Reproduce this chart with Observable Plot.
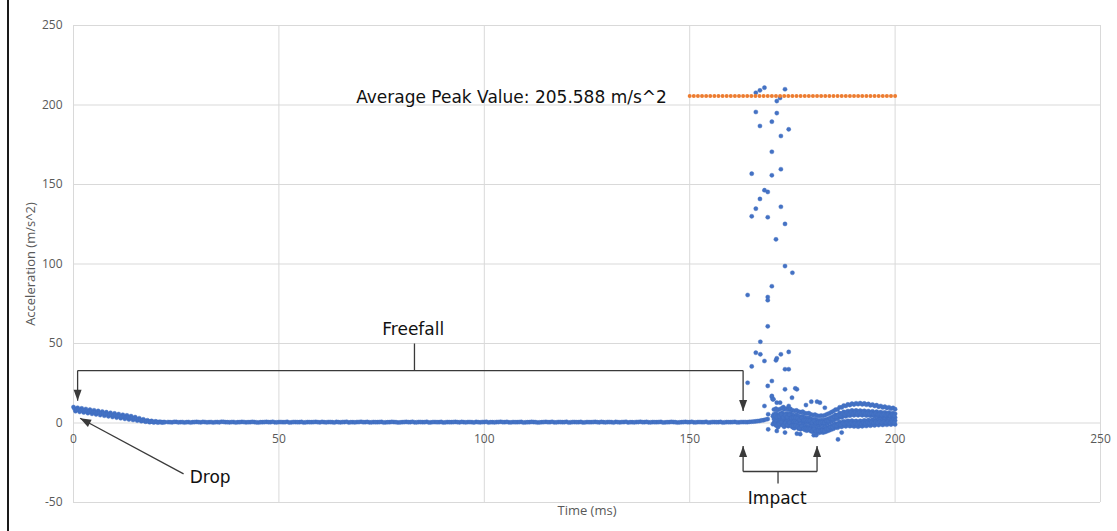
<!DOCTYPE html>
<html>
<head>
<meta charset="utf-8">
<script src="https://cdn.jsdelivr.net/npm/d3@7"></script>
<script src="https://cdn.jsdelivr.net/npm/@observablehq/plot@0.6"></script>
<style>
  html, body { margin: 0; padding: 0; background: #fff; }
  #wrap { position: relative; width: 1117px; height: 531px; overflow: hidden; }
  #edge { position: absolute; left: 7px; top: 0; width: 2px; height: 531px; background: #1a1a1a; }
</style>
</head>
<body>
<div id="wrap"><div id="edge"></div></div>
<script>
// ---------- data ----------
const xTicks = [0, 50, 100, 150, 200, 250];
const yTicks = [-50, 0, 50, 100, 150, 200, 250];
const yTickLabels = ["-50", "0", "50", "100", "150", "200", "250"];

// Drop phase, sampled every 0.5 ms from t = 0 (two interleaved readings)
const dropStart = 0, dropStep = 0.5;
const dropValues = [10.0,7.4,9.6,7.0,9.2,6.6,8.8,6.2,8.4,5.8,
  8.0,5.4,7.6,5.0,7.2,4.6,6.8,4.2,6.4,3.8,
  6.0,3.4,5.6,3.0,5.2,2.6,4.8,2.2,4.3,1.9,
  3.7,1.5,3.0,1.1,2.3,0.8,1.7,0.5,1.3,0.4,
  1.0,0.3,0.8,0.4,0.6];
const dropStartB = 0.25;
const dropValuesB = [8.9,8.4,8.4,7.9,8.0,7.6,7.6,7.2,7.2,6.8,
  6.8,6.4,6.4,6.0,6.0,5.6,5.6,5.2,5.2,4.8,
  4.8,4.4,4.4,4.0,4.0,3.6,3.6,3.2,3.2,2.7,
  2.6,2.1,2.0,1.6,1.5,1.1,1.1,0.8,0.8,0.6,
  0.7,0.5,0.6,0.4,0.5];

// Freefall, sampled every 1 ms from t = 23 and from t = 23.5
const freefallStart = 23, freefallStep = 1;
const freefallValues = [
  0.6,0.4,0.7,0.5,0.3,0.6,0.5,0.7,0.4,0.6,
  0.5,0.3,0.6,0.8,0.5,0.4,0.6,0.5,0.7,0.4,
  0.5,0.6,0.3,0.5,0.7,0.5,0.4,0.6,0.5,0.8,
  0.4,0.6,0.5,0.3,0.6,0.5,0.7,0.4,0.5,0.6,
  0.5,0.7,0.4,0.6,0.3,0.5,0.6,0.8,0.5,0.4,
  0.6,0.5,0.7,0.4,0.5,0.6,0.3,0.5,0.7,0.5,
  0.4,0.6,0.5,0.8,0.4,0.6,0.5,0.3,0.6,0.5,
  0.7,0.4,0.5,0.6,0.5,0.7,0.4,0.6,0.3,0.5,
  0.6,0.8,0.5,0.4,0.6,0.5,0.7,0.4,0.5,0.6,
  0.3,0.5,0.7,0.5,0.4,0.6,0.5,0.8,0.4,0.6,
  0.5,0.3,0.6,0.5,0.7,0.4,0.5,0.6,0.5,0.7,
  0.4,0.6,0.3,0.5,0.6,0.8,0.5,0.4,0.6,0.5,
  0.7,0.4,0.5,0.6,0.3,0.5,0.7,0.5,0.4,0.6,
  0.5,0.8,0.4,0.6,0.5,0.3,0.6,0.5,0.7,0.4,
  0.6,0.5,0.8,1.0,1.3,1.8,2.5];
const freefallStartB = 23.5;
const freefallValuesB = [
  0.5,0.7,0.4,0.6,0.5,0.3,0.6,0.5,0.7,0.4,
  0.6,0.5,0.4,0.7,0.5,0.6,0.3,0.5,0.6,0.5,
  0.7,0.4,0.5,0.6,0.5,0.8,0.4,0.6,0.5,0.3,
  0.6,0.5,0.7,0.4,0.5,0.6,0.5,0.7,0.4,0.6,
  0.3,0.5,0.6,0.8,0.5,0.4,0.6,0.5,0.7,0.4,
  0.5,0.6,0.3,0.5,0.7,0.5,0.4,0.6,0.5,0.8,
  0.4,0.6,0.5,0.3,0.6,0.5,0.7,0.4,0.5,0.6,
  0.5,0.7,0.4,0.6,0.3,0.5,0.6,0.8,0.5,0.4,
  0.6,0.5,0.7,0.4,0.5,0.6,0.3,0.5,0.7,0.5,
  0.4,0.6,0.5,0.8,0.4,0.6,0.5,0.3,0.6,0.5,
  0.7,0.4,0.5,0.6,0.5,0.7,0.4,0.6,0.3,0.5,
  0.6,0.8,0.5,0.4,0.6,0.5,0.7,0.4,0.5,0.6,
  0.3,0.5,0.7,0.5,0.4,0.6,0.5,0.8,0.4,0.6,
  0.5,0.3,0.6,0.5,0.7,0.4,0.5,0.6,0.4,0.6,
  0.6,0.7,0.9,1.2,1.6,2.2];

// Impact spike: individual readings (time ms, acceleration m/s^2)
const spikeTimes = [164.1,164.1,165.1,165.1,165.1,166.1,166.1,166.1,166.1,167.1,
  167.1,167.1,167.2,167.2,168.2,168.2,168.2,168.2,169.0,169.0,
  169.0,169.0,169.0,169.0,170.0,170.0,170.0,170.0,170.0,170.0,
  170.2,171.0,171.0,171.2,171.2,171.2,172.0,172.2,172.2,172.2,
  172.2,173.2,173.2,173.2,173.2,173.2,174.1,174.1,174.1,174.1,
  175.0,176.1,170.0,170.4,171.2,172.0,172.8,174.9,175.7,169.1,
  178.3,179.6,181.0,181.7,182.9,169.1,171.2,173.2,175.3,176.9,
  176.1,180.2,180.8,186.1,187.0];
const spikeValues = [80.5,25.3,156.8,130.0,35.6,207.7,195.6,134.8,44.2,209.2,
  186.8,140.9,51.1,43.2,210.9,146.4,39.0,10.7,145.3,129.4,
  79.2,77.2,60.8,23.3,189.5,170.6,155.8,86.0,26.4,16.4,
  14.9,115.5,39.4,202.5,194.9,40.7,204.4,180.5,159.6,136.0,
  43.2,209.9,125.2,98.7,33.8,21.2,184.7,44.7,33.8,10.7,
  94.5,21.2,17.0,14.9,12.8,12.8,10.0,15.9,21.8,5.5,
  11.3,13.4,13.4,12.8,9.6,-4.0,-5.0,-6.0,-3.0,-7.0,
  -6.7,-7.7,-7.7,-10.3,-6.0];

// Post-impact oscillation, interleaved traces sampled every 0.5 ms
const ringStart = 170, ringStep = 0.5;
const ringA = [null,
  8.5,9.0,8.2,8.8,9.3,8.6,9.1,8.4,8.9,8.0,
  7.6,7.9,7.2,6.8,7.1,6.3,5.9,6.2,5.4,5.0,
  5.3,4.6,4.4,4.7,4.5,5.0,5.6,6.1,6.8,7.5,
  8.4,8.5,9.9,9.8,11.0,10.7,11.7,11.3,12.2,11.6,
  12.4,11.8,12.5,11.7,12.3,11.5,12.0,11.1,11.6,10.7,
  11.2,10.2,10.7,9.8,10.3,9.4,9.9,9.0,9.5,8.7];
const ringB = [null,
  5.5,6.2,5.0,5.8,6.4,5.2,6.0,5.4,6.3,5.1,
  4.6,5.2,4.3,3.9,4.4,3.5,3.0,3.4,2.6,2.1,
  2.5,1.8,1.5,1.9,1.6,2.0,2.5,3.0,3.6,4.2,
  5.1,5.0,6.2,6.0,7.0,6.7,7.5,7.1,7.9,7.3,
  7.9,7.3,7.8,7.2,7.7,7.0,7.5,6.8,7.3,6.6,
  7.1,6.4,6.9,6.2,6.7,6.0,6.5,5.8,6.3,5.8];
const ringC = [null,
  2.5,3.4,2.0,3.0,3.8,2.4,3.2,2.6,3.5,2.2,
  1.6,2.3,1.2,0.8,1.4,0.5,0.0,0.4,-0.4,-0.9,
  -0.5,-1.2,-1.5,-1.1,-1.3,-0.9,-0.3,0.3,1.0,1.7,
  2.6,2.6,3.7,3.5,4.5,4.2,5.0,4.6,5.3,4.8,
  5.4,4.8,5.4,4.8,5.3,4.7,5.1,4.5,4.9,4.3,
  4.7,4.1,4.5,3.9,4.3,3.7,4.1,3.6,3.9,3.4];
const ringD = [null,
  0.2,1.0,-0.4,0.6,1.3,-0.2,0.8,0.1,1.0,-0.3,
  -0.9,-0.2,-1.3,-1.7,-1.1,-2.0,-2.5,-2.1,-2.9,-3.4,
  -3.0,-3.7,-4.0,-3.6,-3.8,-3.4,-2.9,-2.4,-1.8,-1.2,
  -0.4,-0.4,0.5,0.3,1.1,0.8,1.4,1.0,1.5,0.9,
  1.3,0.8,1.4,1.0,1.6,1.2,1.8,1.4,2.0,1.6,
  2.2,1.8,2.3,1.8,2.2,1.7,2.1,1.6,2.0,1.5];
const ringE = [null,
  null,-1.5,-2.6,-1.2,-0.8,-2.4,-1.4,-2.0,-1.1,-2.6,
  -3.2,-2.5,-3.6,-4.0,-3.4,-4.3,-4.8,-4.4,-5.2,-5.6,
  -5.2,-5.9,-6.2,-5.8,-6.0,-5.6,-5.1,-4.6,-4.1,-3.6,
  -2.8,-3.0,-2.1,-2.4,-1.6,-2.1,-1.4,-2.0,-1.5,-2.2,
  -1.7,-2.3,-1.6,-2.1,-1.4,-1.9,-1.2,-1.7,-1.0,-1.5,
  -0.8,-1.3,-0.6,-1.2,-0.5,-1.1,-0.4,-1.0,-0.3,-0.9];
const ringStartB = 170.25;
const ringBC = [4.3,4.5,3.8,4.1,5.4,3.5,4.9,3.7,5.2,3.3,
  3.4,3.4,3.0,2.0,3.2,1.7,1.8,1.6,1.4,0.3,
  1.3,0.0,0.3,0.1,0.5,0.2,1.4,1.3,2.6,2.6,
  3.8,3.8,4.9,4.7,5.7,5.4,6.2,5.8,6.5,6.0,
  6.6,6.1,6.6,6.0,6.5,5.9,6.3,5.7,6.1,5.5,
  5.9,5.3,5.7,5.1,5.5,4.9,5.3,4.7,5.2,4.6];
const ringDE = [-0.8,-0.5,-1.2,-0.6,0.5,-1.6,0.0,-1.3,0.3,-1.8,
  -1.8,-1.7,-2.2,-3.2,-2.0,-3.5,-3.4,-3.6,-3.8,-4.8,
  -3.8,-5.1,-4.8,-5.0,-4.6,-4.8,-3.7,-3.8,-2.7,-2.7,
  -1.6,-1.8,-0.8,-1.1,-0.2,-0.7,0.0,-0.5,0.0,-0.7,
  -0.2,-0.8,-0.1,-0.6,0.1,-0.4,0.3,-0.2,0.5,0.0,
  0.7,0.2,0.8,0.3,0.8,0.3,0.8,0.3,0.8,0.3];

// Average peak reference series
const peakValue = 205.588;
const peakTimes = [150,151,152,153,154,155,156,157,158,159,160,161,162,163,164,165,166,167,168,169,
  170,171,172,173,174,175,176,177,178,179,180,181,182,183,184,185,186,187,188,189,
  190,191,192,193,194,195,196,197,198,199,200];

const peakLabel = "Average Peak Value: 205.588 m/s^2";

// ---------- build tables ----------
const points = [];
function addGrid(start, step, values) {
  values.forEach((v, i) => { if (v != null) points.push({t: start + i * step, a: v}); });
}
addGrid(dropStart, dropStep, dropValues);
addGrid(dropStartB, dropStep, dropValuesB);
addGrid(freefallStart, freefallStep, freefallValues);
addGrid(freefallStartB, freefallStep, freefallValuesB);
spikeTimes.forEach((t, i) => points.push({t, a: spikeValues[i]}));
[ringA, ringB, ringC, ringD, ringE].forEach(tr => addGrid(ringStart, ringStep, tr));
[ringBC, ringDE].forEach(tr => addGrid(ringStartB, ringStep, tr));
const peak = peakTimes.map(t => ({t, a: peakValue}));

// annotation geometry (data coordinates)
const freefallLinks = [
  {x1: 1, y1: 33, x2: 163, y2: 33},
  {x1: 1, y1: 33, x2: 1, y2: 14},
  {x1: 163, y1: 33, x2: 163, y2: 7.5},
  {x1: 83, y1: 33, x2: 83, y2: 50}
];
const impactLinks = [
  {x1: 163, y1: -14.5, x2: 163, y2: -30.5},
  {x1: 181, y1: -14.5, x2: 181, y2: -30.5},
  {x1: 163, y1: -30.5, x2: 181, y2: -30.5},
  {x1: 171.5, y1: -30.5, x2: 171.5, y2: -38}
];
const dropLink = [{x1: 26.8, y1: -32, x2: 1.6, y2: 3.0}];
const downHeads = [{x: 1, y: 14}, {x: 163, y: 7.5}];
const upHeads = [{x: 163, y: -14.5}, {x: 181, y: -14.5}];
const dropHead = [{x: 1.6, y: 3.0}];

const arrowHead = {
  draw(ctx) { ctx.moveTo(0, 0); ctx.lineTo(-4, 11); ctx.lineTo(4, 11); ctx.closePath(); }
};

const axisFont = "'Open Sans', 'Liberation Sans', sans-serif";
const noteFont = "'DejaVu Sans', Verdana, sans-serif";
const ink = "#3a3a3a";

const chart = Plot.plot({
  width: 1117,
  height: 531,
  marginLeft: 73,
  marginRight: 17,
  marginTop: 25,
  marginBottom: 29,
  x: {domain: [0, 250], axis: null},
  y: {domain: [-50, 250], axis: null},
  style: {background: "transparent"},
  marks: [
    Plot.gridX(xTicks, {stroke: "#d9d9d9", strokeOpacity: 1, strokeWidth: 1}),
    Plot.gridY(yTicks, {stroke: "#d9d9d9", strokeOpacity: 1, strokeWidth: 1}),
    Plot.text(yTicks, {x: 0, y: d => d, text: (d, i) => yTickLabels[i], dx: -11, textAnchor: "end",
      fontSize: 12, fontFamily: axisFont, fill: "#595959"}),
    Plot.text(xTicks, {x: d => d, y: 0, text: d => String(d), dy: 16,
      fontSize: 12, fontFamily: axisFont, fill: "#595959"}),
    Plot.text(["Time (ms)"], {frameAnchor: "bottom", dy: 12, text: d => d, textAnchor: "middle",
      fontSize: 13, fontFamily: axisFont, fill: "#595959"}),
    Plot.text(["Acceleration (m/s^2)"], {frameAnchor: "left", dx: -43, rotate: -90, text: d => d, textAnchor: "middle",
      fontSize: 13, fontFamily: axisFont, fill: "#595959"}),

    Plot.dot(points, {x: "t", y: "a", r: 2.1, fill: "#4472C4", stroke: "#3f6cc0", strokeWidth: 0.4}),
    Plot.dot(peak, {x: "t", y: "a", r: 2, fill: "#ED7D31"}),

    // annotations
    Plot.link(freefallLinks, {x1: "x1", y1: "y1", x2: "x2", y2: "y2", stroke: ink, strokeWidth: 1.3}),
    Plot.link(impactLinks, {x1: "x1", y1: "y1", x2: "x2", y2: "y2", stroke: ink, strokeWidth: 1.3}),
    Plot.link(dropLink, {x1: "x1", y1: "y1", x2: "x2", y2: "y2", stroke: ink, strokeWidth: 1.3}),
    Plot.dot(downHeads, {x: "x", y: "y", symbol: arrowHead, rotate: 180, fill: ink, stroke: null}),
    Plot.dot(upHeads, {x: "x", y: "y", symbol: arrowHead, rotate: 0, fill: ink, stroke: null}),
    Plot.dot(dropHead, {x: "x", y: "y", symbol: arrowHead, rotate: -62, fill: ink, stroke: null}),

    Plot.text(["Freefall"], {x: 82.7, y: 58.5, text: d => d, fontSize: 17, fontFamily: noteFont, fill: "#111"}),
    Plot.text(["Impact"], {x: 171.3, y: -47.5, text: d => d, fontSize: 17, fontFamily: noteFont, fill: "#111"}),
    Plot.text(["Drop"], {x: 28.3, y: -34.5, text: d => d, textAnchor: "start", fontSize: 17, fontFamily: noteFont, fill: "#111"}),
    Plot.text([peakLabel], {x: 68.8, y: 204.4, text: d => d, textAnchor: "start", fontSize: 17, fontFamily: noteFont, fill: "#111"})
  ]
});
document.getElementById("wrap").appendChild(chart);
</script>
</body>
</html>
